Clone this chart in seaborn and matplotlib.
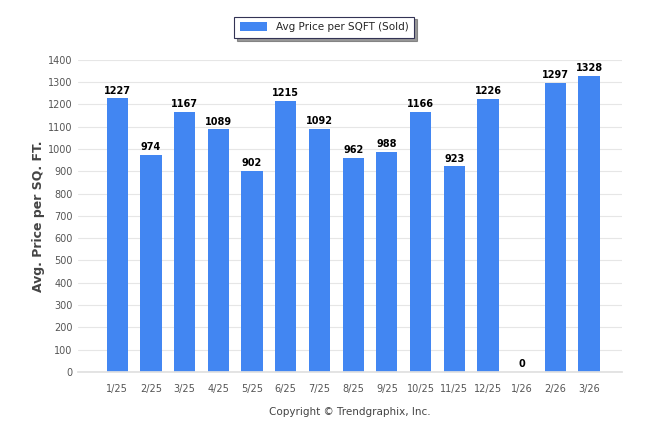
import matplotlib
matplotlib.use("Agg")
import matplotlib.pyplot as plt
import seaborn as sns
import pandas as pd

months = ["1/25", "2/25", "3/25", "4/25", "5/25", "6/25", "7/25", "8/25", "9/25",
          "10/25", "11/25", "12/25", "1/26", "2/26", "3/26"]
values = [1227, 974, 1167, 1089, 902, 1215, 1092, 962, 988, 1166, 923, 1226, 0, 1297, 1328]
yticks = list(range(0, 1401, 100))

sns.set_theme(style="white")
plt.rcParams['font.family'] = ['DejaVu Sans']

df = pd.DataFrame({"month": months, "value": values})
fig = plt.figure(figsize=(6.46, 4.34), dpi=100)
ax = fig.add_axes([0.121, 0.143, 0.842, 0.719])
color = "#4286F2"
sns.barplot(data=df, x="month", y="value", color=color, width=0.63, ax=ax,
            saturation=1, linewidth=0, edgecolor="none", label="Avg Price per SQFT (Sold)")
ax.set_xlim(-1.16, 14.98)
ax.set_ylim(0, 1400)
ax.set_yticks(yticks)
ax.yaxis.grid(True, color="#E6E6E6", linewidth=0.8)
ax.set_axisbelow(True)
for s in ["top", "right", "left"]:
    ax.spines[s].set_visible(False)
ax.spines["bottom"].set_color("#E0E0E0")
ax.tick_params(axis="both", labelsize=7, colors="#555555", length=0, pad=4)
ax.set_xticks([i - 0.5 for i in range(len(months) + 1)], minor=True)
ax.tick_params(axis="x", which="minor", length=4, color="#E0E0E0")
ax.tick_params(axis="x", which="major", length=0, pad=9)
ax.set_xlabel("Copyright © Trendgraphix, Inc.", fontsize=7.5, color="#444444", labelpad=9)
ax.set_ylabel("Avg. Price per SQ. FT.", fontsize=9, fontweight="bold", color="#444444", labelpad=2)
for i, v in enumerate(values):
    ax.text(i, v + 12, str(v), ha="center", va="bottom", fontsize=7, fontweight="bold", color="#000000")
leg = ax.legend(loc="center", fontsize=7.5,
                frameon=True, fancybox=False, shadow={"color": "#555555", "alpha": 0.6}, handlelength=2.6, handleheight=0.9,
                borderpad=0.55)
leg.set_bbox_to_anchor((0.502, 0.937), transform=fig.transFigure)
leg.get_frame().set_edgecolor("#333355")
leg.get_frame().set_linewidth(0.8)
fig.savefig("out.png", dpi=100)
